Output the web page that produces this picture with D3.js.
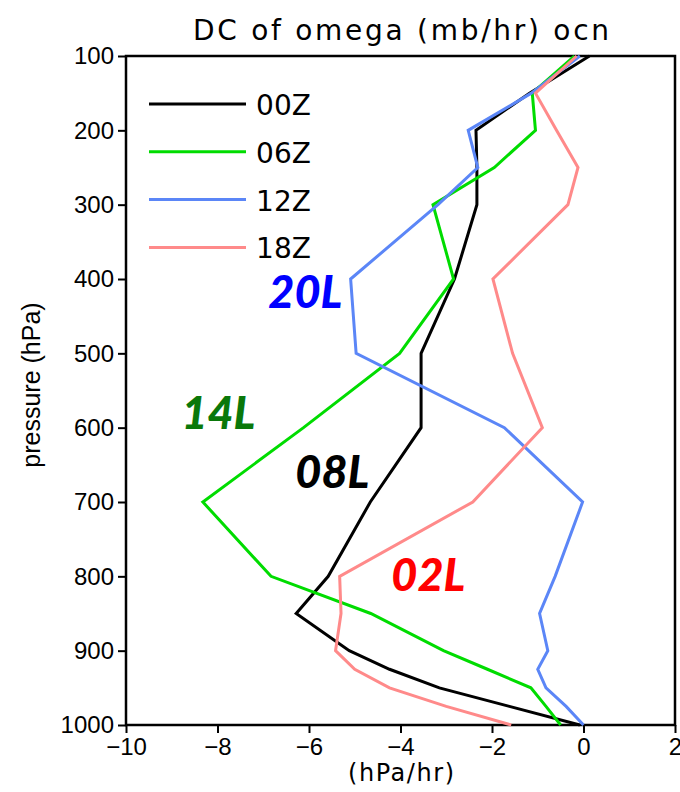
<!DOCTYPE html>
<html>
<head>
<meta charset="utf-8">
<script src="https://cdn.jsdelivr.net/npm/d3@7"></script>
<style>
  body { margin: 0; background: #fff; }
  svg text { fill: #000; }
</style>
</head>
<body>
<div id="chart"></div>
<script>
// pressure levels (hPa) and omega diurnal cycle per hour (hPa/hr)
var levels = [100, 150, 200, 250, 300, 400, 500, 600, 700, 800, 850, 900, 925, 950, 975, 1000];
var z00 = [0.13, -1.18, -2.35, -2.33, -2.33, -2.82, -3.55, -3.55, -4.66, -5.58, -6.28, -5.12, -4.24, -3.15, -1.62, -0.08];
var z06 = [-0.2, -1.12, -1.05, -1.95, -3.29, -2.84, -4.02, -6.12, -8.32, -6.83, -4.65, -3.06, -2.1, -1.15, -0.82, -0.5];
var z12 = [-0.08, -1.14, -2.52, -2.31, -3.18, -5.09, -4.97, -1.73, -0.02, -0.62, -0.96, -0.78, -1.0, -0.82, -0.38, 0.0];
var z18 = [-0.15, -1.05, -0.59, -0.12, -0.34, -1.98, -1.55, -0.9, -2.42, -5.33, -5.3, -5.42, -5.0, -4.24, -3.0, -1.58];

var seriesNames = ["00Z", "06Z", "12Z", "18Z"];
var seriesColors = ["#000000", "#00dc00", "#5b86f7", "#ff8a8a"];
var xTicks = [-10, -8, -6, -4, -2, 0, 2];
var yTicks = [100, 200, 300, 400, 500, 600, 700, 800, 900, 1000];

// storm labels
var stormNames = ["20L", "14L", "08L", "02L"];
var stormColors = ["#0000ff", "#0a780a", "#000000", "#ff0000"];
var stormX = [-6.08, -7.98, -5.49, -3.39];
var stormP = [439, 602, 681, 820];

var width = 680, height = 792;
var margin = {top: 56, right: 5, bottom: 67, left: 126};

var svg = d3.select("#chart")
    .append("svg")
    .attr("width", width)
    .attr("height", height);

var x = d3.scaleLinear()
    .domain([-10, 2])
    .range([margin.left, width - margin.right]);

var y = d3.scaleLinear()
    .domain([100, 1000])
    .range([margin.top, height - margin.bottom]);

// title
svg.append("text")
    .attr("x", 401)
    .attr("y", 40)
    .attr("text-anchor", "middle")
    .attr("textLength", 416)
    .attr("lengthAdjust", "spacing")
    .style("font-family", "DejaVu Sans, sans-serif")
    .style("font-size", "28px")
    .text("DC of omega (mb/hr) ocn");

// axes
var xAxis = d3.axisBottom(x).tickValues(xTicks).tickSize(8).tickPadding(5)
    .tickFormat(function(d) { return d < 0 ? "\u2212" + Math.abs(d) : d; });
svg.append("g")
    .attr("transform", "translate(0," + y(1000) + ")")
    .call(xAxis);

var yAxis = d3.axisLeft(y).tickValues(yTicks).tickSize(8).tickPadding(4)
    .tickFormat(d3.format("d"));
svg.append("g")
    .attr("transform", "translate(" + x(-10) + ",0)")
    .call(yAxis);

svg.selectAll(".domain").remove();
svg.selectAll(".tick line").attr("stroke", "#000").attr("stroke-width", 2);
svg.selectAll(".tick text")
    .style("font-family", "Liberation Sans, Arial, sans-serif")
    .style("font-size", "24px")
    .attr("fill", "#000");

// frame
svg.append("rect")
    .attr("x", x(-10))
    .attr("y", y(100))
    .attr("width", x(2) - x(-10))
    .attr("height", y(1000) - y(100))
    .attr("fill", "none")
    .attr("stroke", "#000")
    .attr("stroke-width", 2.5);

// axis titles
svg.append("text")
    .attr("x", 401)
    .attr("y", 781)
    .attr("text-anchor", "middle")
    .attr("textLength", 106)
    .attr("lengthAdjust", "spacing")
    .style("font-family", "DejaVu Sans, sans-serif")
    .style("font-size", "24px")
    .text("(hPa/hr)");

svg.append("text")
    .attr("transform", "translate(40," + 385 + ") rotate(-90)")
    .attr("text-anchor", "middle")
    .style("font-family", "Liberation Sans, Arial, sans-serif")
    .style("font-size", "25px")
    .text("pressure (hPa)");

// lines
var allSeries = [z00, z06, z12, z18];
var line = d3.line()
    .x(function(d) { return x(d.v); })
    .y(function(d) { return y(d.p); });

allSeries.forEach(function(s, i) {
    var pts = s.map(function(v, j) { return {v: v, p: levels[j]}; });
    svg.append("path")
        .datum(pts)
        .attr("d", line)
        .attr("fill", "none")
        .attr("stroke", seriesColors[i])
        .attr("stroke-width", 3)
        .attr("stroke-linejoin", "miter");
});

// legend
var legend = svg.append("g");
seriesNames.forEach(function(n, i) {
    var ly = 104 + i * 47.8;
    legend.append("line")
        .attr("x1", 149).attr("x2", 246)
        .attr("y1", ly).attr("y2", ly)
        .attr("stroke", seriesColors[i])
        .attr("stroke-width", 3);
    legend.append("text")
        .attr("x", 256)
        .attr("y", ly + 11)
        .attr("textLength", 55)
        .attr("lengthAdjust", "spacing")
        .style("font-family", "DejaVu Sans, sans-serif")
        .style("font-size", "28px")
        .text(n);
});

// storm annotations
stormNames.forEach(function(n, i) {
    svg.append("text")
        .attr("x", x(stormX[i]))
        .attr("y", y(stormP[i]))
        .attr("text-anchor", "middle")
        .style("font-family", "Lato, sans-serif")
        .style("font-weight", "900")
        .style("font-style", "italic")
        .style("font-size", "45px")
        .style("fill", stormColors[i])
        .text(n);
});
</script>
</body>
</html>
